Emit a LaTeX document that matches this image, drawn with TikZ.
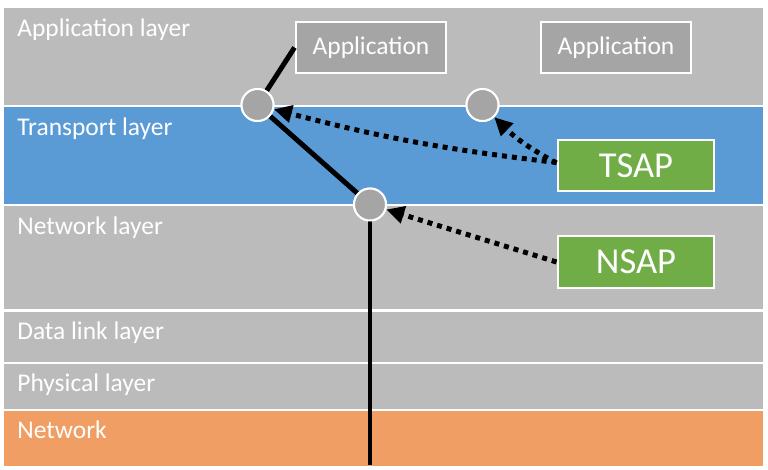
\documentclass[tikz,border=0pt]{standalone}
\usepackage{fontspec}
\setmainfont{Carlito}
\usepackage{tikz}
\usetikzlibrary{arrows.meta, positioning}

\definecolor{layergray}{HTML}{BBBBBB}
\definecolor{layerblue}{HTML}{5B9BD5}
\definecolor{layerorange}{HTML}{F19E64}
\definecolor{boxgray}{HTML}{A5A5A5}
\definecolor{sapgreen}{HTML}{70AD47}

\begin{document}
\begin{tikzpicture}[
            x=0.02cm, y=-0.02cm,
            layertext/.style={anchor=base west, inner sep=0pt, text=white, font=\fontsize{14.5}{16}\selectfont},
            appbox/.style={rectangle, draw=white, line width=0.04cm, fill=boxgray, text=white, minimum width=3.02cm, minimum height=1.04cm, font=\fontsize{14.5}{16}\selectfont},
            sapbox/.style={rectangle, draw=white, line width=0.04cm, fill=sapgreen, text=white, minimum width=3.14cm, minimum height=1.04cm, font=\fontsize{20.8}{22}\selectfont},
            accesspoint/.style={circle, draw=white, line width=0.04cm, fill=boxgray, minimum size=0.64cm, inner sep=0pt},
            wire/.style={line width=0.1cm},
            saparrow/.style={line width=0.1cm, dash pattern=on 0.1cm off 0.1cm, -{Triangle[length=0.36cm, width=0.34cm]}},
            ]
            % layer bands
            \fill[white] (0,0) rectangle (768,470);
            \fill[layergray]   (4,8)     rectangle (763,104.5);
            \fill[layerblue]   (4,106.5) rectangle (763,203.5);
            \fill[layergray]   (4,206)   rectangle (763,309);
            \fill[layergray]   (4,311.5) rectangle (763,361.5);
            \fill[layergray]   (4,364)   rectangle (763,408.5);
            \fill[layerorange] (4,411)   rectangle (763,466);

            \node[layertext] (applabel)  at (17,36.5) {Application layer};
            \node[layertext] (translabel) at (17,135) {Transport layer};
            \node[layertext] (netlabel)  at (17,234) {Network layer};
            \node[layertext] (dllabel)   at (17,339) {Data link layer};
            \node[layertext] (phylabel)  at (17,391) {Physical layer};
            \node[layertext] (nwlabel)   at (17,438) {Network};

            \node[appbox]      (appa) at (371,47.5)  {Application};
            \node[appbox]      (appb) at (616,47.5)  {Application};
            \node[sapbox]      (tsap) at (636,165.5) {TSAP};
            \node[sapbox]      (nsap) at (636,262)   {NSAP};

            \node[accesspoint] (tpa)  at (257.5,105) {};
            \node[accesspoint] (tpb)  at (482.5,105) {};
            \node[accesspoint] (npa)  at (370,204.5) {};
            \coordinate        (wireend) at (370,465);

            \draw[wire] (appa.west) -- (tpa);
            \draw[wire] (tpa) -- (npa);
            \draw[wire, line width=0.08cm] (npa) -- (wireend);

            \draw[saparrow] ([yshift=0.06cm]tsap.west) to[bend left=4] (tpa);
            \draw[saparrow] ([yshift=0.05cm]tsap.west) to[bend left=8] (tpb);
            \draw[saparrow] (nsap.west) -- (npa);

            % circles on top
            \node[accesspoint] at (tpa) {};
            \node[accesspoint] at (tpb) {};
            \node[accesspoint] at (npa) {};
        \end{tikzpicture}
\end{document}
